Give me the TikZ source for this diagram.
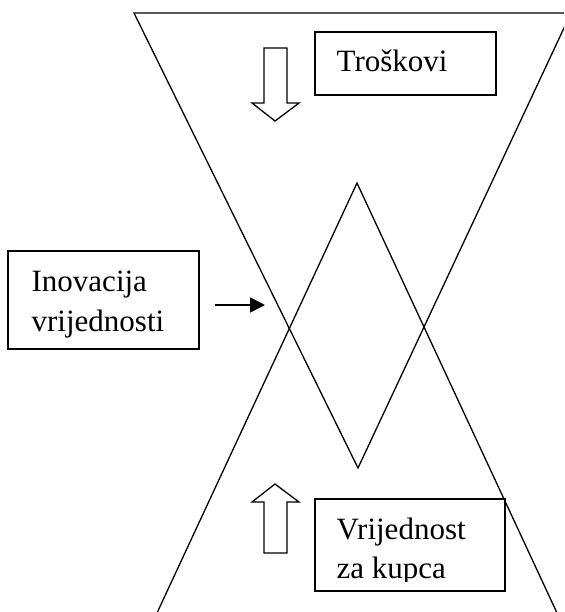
\documentclass[tikz,border=0pt]{standalone}
\usepackage{fontspec}
\setmainfont{Liberation Serif}
\usetikzlibrary{arrows.meta}
\begin{document}
\begin{tikzpicture}[x=1pt,y=-1pt,line width=1.3pt,line join=miter,
  box/.style={draw,fill=white,inner sep=0pt,line width=1.3pt},
  txt/.style={font=\fontsize{31}{39.5}\selectfont,inner sep=0pt,anchor=base west},
  blockarrow/.style={draw,fill=white,line width=1.3pt}]
\useasboundingbox (0,0) rectangle (564,612);
% triangles
\begin{scope}
\clip (0,0) rectangle (564,612);
\coordinate (tl) at (134,13);
\coordinate (tr) at (571,13);
\coordinate (tv) at (358,468);
\coordinate (ba) at (357,183);
\coordinate (bl) at (150,628);
\coordinate (br) at (564,628);
\draw (tv) -- (tl) -- (tr) -- cycle;
\draw (bl) -- (ba) -- (br);
\end{scope}
% block arrows
\draw[blockarrow] (264,48) -- (287,48) -- (287,103) -- (299,103) -- (275,121) -- (252,103) -- (264,103) -- cycle;
\draw[blockarrow] (264,553) -- (287,553) -- (287,502) -- (299,502) -- (275,484) -- (252,502) -- (264,502) -- cycle;
% boxes
\node[box,minimum width=181pt,minimum height=63pt] (trosk) at (405.5,63.5) {};
\node[txt] (troskT) at (336,72) {Troškovi};
\node[box,minimum width=191pt,minimum height=98pt] (inov) at (103.5,300) {};
\node[txt] (inovT1) at (31,291) {Inovacija};
\node[txt] (inovT2) at (31,331) {vrijednosti};
\node[box,minimum width=190pt,minimum height=92pt] (vrij) at (410,545) {};
\node[txt] (vrijT1) at (336,539) {Vrijednost};
\begin{scope}
\clip (316,500) rectangle (504,581);
\node[txt] (vrijT2) at (336,578) {za kupca};
\end{scope}
% small arrow
\coordinate (arrS) at (215,305);
\coordinate (arrE) at (265,305);
\draw[line width=1.8pt,-{Triangle[length=15pt,width=15pt]}] (arrS) -- (arrE);
\end{tikzpicture}
\end{document}
